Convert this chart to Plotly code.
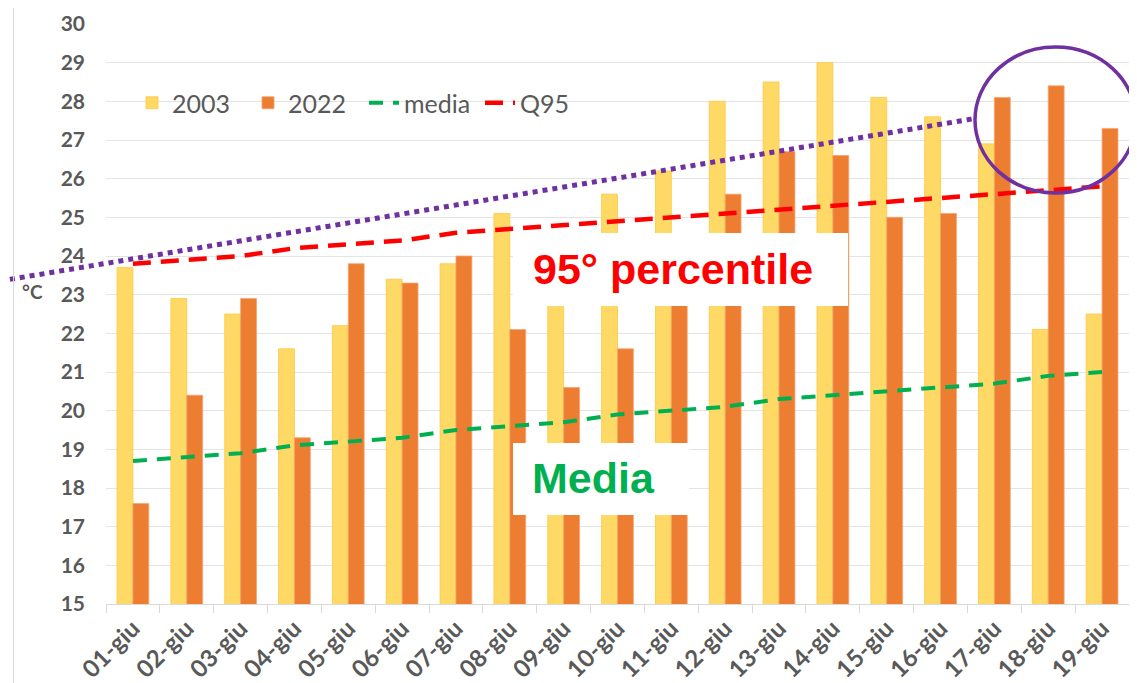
import plotly.graph_objects as go

categories = ["01-giu", "02-giu", "03-giu", "04-giu", "05-giu", "06-giu", "07-giu",
              "08-giu", "09-giu", "10-giu", "11-giu", "12-giu", "13-giu", "14-giu",
              "15-giu", "16-giu", "17-giu", "18-giu", "19-giu"]
y2003 = [23.7, 22.9, 22.5, 21.6, 22.2, 23.4, 23.8, 25.1, 23.9, 25.6, 26.2, 28.0,
         28.5, 29.0, 28.1, 27.6, 26.9, 22.1, 22.5]
y2022 = [17.6, 20.4, 22.9, 19.3, 23.8, 23.3, 24.0, 22.1, 20.6, 21.6, 23.6, 25.6,
         26.7, 26.6, 25.0, 25.1, 28.1, 28.4, 27.3]
media = [18.7, 18.8, 18.9, 19.1, 19.2, 19.3, 19.5, 19.6, 19.7, 19.9, 20.0, 20.1,
         20.3, 20.4, 20.5, 20.6, 20.7, 20.9, 21.0]
q95 = [23.8, 23.9, 24.0, 24.2, 24.3, 24.4, 24.6, 24.7, 24.8, 24.9, 25.0, 25.1,
       25.2, 25.3, 25.4, 25.5, 25.6, 25.7, 25.8]
y_ticks = list(range(15, 31))

# page is rendered with an 8px body margin
OFF = 8
W, H = 1137 - OFF, 683 - OFF
ML, MT = 106 - OFF, 24 - OFF
PW, PH = 1023, 580
MR, MB = W - ML - PW, H - MT - PH


def px(x):
    """page pixel x -> paper fraction"""
    return (x - OFF - ML) / PW


def py(y):
    """page pixel y -> paper fraction"""
    return (H - MB - (y - OFF)) / PH


GREY = "#595959"
fig = go.Figure()
fig.add_trace(go.Bar(x=categories, y=y2003, name="2003", marker_color="#FFD966",
                     marker_line=dict(color="#FFC83D", width=0.8)))
fig.add_trace(go.Bar(x=categories, y=y2022, name="2022", marker_color="#ED7D31",
                     marker_line=dict(color="#F4A574", width=0.8)))
fig.add_trace(go.Scatter(x=categories, y=media, name="media", mode="lines",
                         line=dict(color="#00B050", width=4, dash="14px,10px")))
fig.add_trace(go.Scatter(x=categories, y=q95, name="Q95", mode="lines",
                         line=dict(color="#FF0000", width=4.5, dash="18px,10px")))

shapes = [
    dict(type="rect", xref="paper", yref="paper", x0=px(118), x1=px(593),
         y0=py(155), y1=py(48), fillcolor="white", line_width=0, layer="between"),
    dict(type="rect", xref="paper", yref="paper", x0=px(513), x1=px(848),
         y0=py(306), y1=py(233), fillcolor="white", line_width=0, layer="above"),
    dict(type="rect", xref="paper", yref="paper", x0=px(513), x1=px(689),
         y0=py(515), y1=py(443), fillcolor="white", line_width=0, layer="above"),
    dict(type="line", xref="paper", yref="paper", x0=px(0), y0=py(281),
         x1=px(972), y1=py(119), line=dict(color="#7030A0", width=5, dash="dot"),
         layer="above"),
    dict(type="circle", xref="paper", yref="paper", x0=px(975), x1=px(1136),
         y0=py(193), y1=py(47), line=dict(color="#7030A0", width=3.5), layer="above"),
    dict(type="line", xref="paper", yref="paper", x0=px(13.5), x1=px(13.5),
         y0=py(8), y1=py(683), line=dict(color="#D9D9D9", width=1)),
]

annotations = [
    dict(text="95° percentile", xref="paper", yref="paper", x=px(673), y=py(269),
         showarrow=False, xanchor="center", yanchor="middle",
         font=dict(family="Liberation Sans", size=43, color="#FF0000", weight="bold")),
    dict(text="Media", xref="paper", yref="paper", x=px(593), y=py(478),
         showarrow=False, xanchor="center", yanchor="middle",
         font=dict(family="Liberation Sans", size=43, color="#00B050", weight="bold")),
    dict(text="°C", xref="paper", yref="paper", x=px(32), y=py(291),
         showarrow=False, xanchor="center", yanchor="middle",
         font=dict(family="Lato", size=19, color=GREY, weight="bold")),
]

fig.update_layout(
    width=W, height=H,
    margin=dict(l=ML, r=MR, t=MT, b=MB, autoexpand=False),
    paper_bgcolor="white", plot_bgcolor="white",
    barmode="group", bargap=0.41, bargroupgap=0,
    font=dict(family="Lato", color=GREY),
    legend=dict(orientation="h", x=px(132), y=py(103), xanchor="left", yanchor="middle",
                bgcolor="rgba(0,0,0,0)", font=dict(family="Lato", size=25, color=GREY),
                itemwidth=30, traceorder="normal", entrywidth=71,
                entrywidthmode="pixels"),
    shapes=shapes, annotations=annotations, showlegend=True,
)
fig.update_xaxes(type="category", range=[-0.5, 18.5], tickangle=-45,
                 tickfont=dict(family="Lato", size=24, color=GREY, weight="bold"),
                 showline=True, linecolor="#D9D9D9", linewidth=1,
                 ticks="outside", tickson="boundaries", ticklen=8, tickcolor="#D9D9D9",
                 showgrid=False, automargin=False)
fig.update_yaxes(range=[15, 30], tickvals=y_ticks, ticktext=[str(v) for v in y_ticks],
                 tickfont=dict(family="Lato", size=21, color=GREY, weight="bold"),
                 showgrid=True, gridcolor="#E4E4E4", gridwidth=1, zeroline=False,
                 showline=False, ticks="", ticklabelstandoff=20, automargin=False)

fig.write_html("out.html")
